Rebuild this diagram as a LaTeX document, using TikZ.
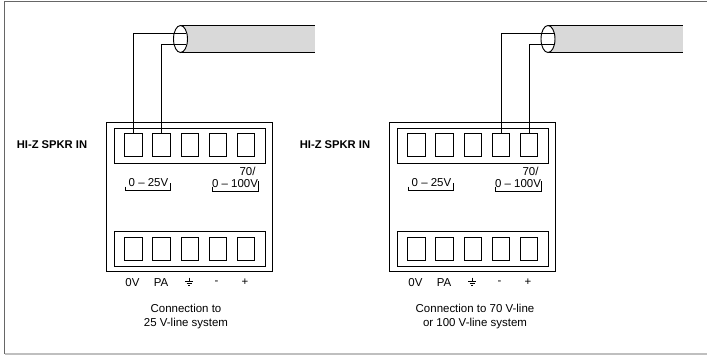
\documentclass[tikz,border=0pt]{standalone}
\usepackage{fontspec}
\setmainfont{Liberation Sans}
\begin{document}
\begin{tikzpicture}[x=0.75pt,y=-0.75pt,
    wire/.style = {line width=0.7pt},
    terminal/.style = {draw,line width=0.7pt,minimum width=13.2pt,minimum height=17.2pt,inner sep=0pt},
    label/.style = {font=\fontsize{8.6}{10.7}\selectfont,inner sep=0pt,align=center},
    title/.style = {font=\fontsize{8.4}{10}\selectfont\bfseries,inner sep=0pt}]
    \useasboundingbox (0,0) rectangle (707,355);
    \draw[gray!80!black,line width=0.9pt] (4.5,353.5) -- (4.5,1.5) -- (707,1.5);
    \draw[gray!50,line width=0.8pt] (4.5,354) -- (707,354);

    % Panel 1
    \node [title] (hizleft) at (52,145) {HI-Z SPKR IN};
    \draw[wire] (106.5,122.5) rectangle (272,271);
    \draw[wire] (114.5,128) rectangle (265,163);
    \draw[wire] (114.5,231) rectangle (265,266);
    \foreach \n/\x in {1/133.5,2/161.5,3/190,4/218,5/246}{
        \node [terminal] (ltop\n) at (\x,145) {};
        \node [terminal] (lbot\n) at (\x,248.5) {};
    }

    \node [label] (l70) at (247.5,171) {70/};
    \node [label] (l25v) at (148.5,183) {0 -- 25V};
    \node [label] (l100v) at (235,184) {0 -- 100V};
    \draw[wire] (125,186.5) -- (125,190) -- (170.5,190) -- (170.5,183);
    \draw[wire] (212,186.5) -- (212,191) -- (258,191) -- (258,181);

    \node [label] (l0v) at (132.5,282.5) {0V};
    \node [label] (lpa) at (161,282.5) {PA};
    \coordinate (lgnd) at (189,281);
    \draw[wire] (lgnd) ++(0,-3.5) -- ++(0,3.5);
    \draw[wire] (lgnd) ++(-4,0) -- ++(8,0);
    \draw[wire] (lgnd) ++(-2.5,2.5) -- ++(5,0);
    \draw[wire] (lgnd) ++(-1,4.5) -- ++(2,0);
    \node [label] (lminus) at (216.5,283) {-};
    \node [label] (lplus) at (245,282.5) {+};
    \node [label] (lnote) at (186,316.5) {Connection to\\25 V-line system};

    % Cable 1
    \fill[gray!30] (180.5,25.5) -- (315,25.5) -- (315,52.5) -- (180.5,52.5) -- cycle;
    \draw[wire] (180.5,25.5) -- (315,25.5);
    \draw[wire] (180.5,52.5) -- (315,52.5);
    \draw[wire,fill=white] (180.5,39) ellipse (7 and 13.5);
    \coordinate (lcabletop) at (186,33.5);
    \coordinate (lcablebot) at (186,44.5);
    \draw[wire] (lcabletop) -| (ltop1.north);
    \draw[wire] (lcablebot) -| (ltop2.north);

    % Panel 2
    \node [title] (hizright) at (335,145) {HI-Z SPKR IN};
    \draw[wire] (389.5,122.5) rectangle (555,271);
    \draw[wire] (397.5,128) rectangle (548,163);
    \draw[wire] (397.5,231) rectangle (548,266);
    \foreach \n/\x in {1/416.5,2/444.5,3/473,4/501,5/529}{
        \node [terminal] (rtop\n) at (\x,145) {};
        \node [terminal] (rbot\n) at (\x,248.5) {};
    }

    \node [label] (r70) at (530.5,171) {70/};
    \node [label] (r25v) at (431.5,183) {0 -- 25V};
    \node [label] (r100v) at (518,184) {0 -- 100V};
    \draw[wire] (408,186.5) -- (408,190) -- (453.5,190) -- (453.5,183);
    \draw[wire] (495,186.5) -- (495,191) -- (541,191) -- (541,181);

    \node [label] (r0v) at (415.5,282.5) {0V};
    \node [label] (rpa) at (444,282.5) {PA};
    \coordinate (rgnd) at (472,281);
    \draw[wire] (rgnd) ++(0,-3.5) -- ++(0,3.5);
    \draw[wire] (rgnd) ++(-4,0) -- ++(8,0);
    \draw[wire] (rgnd) ++(-2.5,2.5) -- ++(5,0);
    \draw[wire] (rgnd) ++(-1,4.5) -- ++(2,0);
    \node [label] (rminus) at (499.5,283) {-};
    \node [label] (rplus) at (528,282.5) {+};
    \node [label] (rnote) at (475,316.5) {Connection to 70 V-line\\or 100 V-line system};

    % Cable 2
    \fill[gray!30] (548,25.5) -- (682.5,25.5) -- (682.5,52.5) -- (548,52.5) -- cycle;
    \draw[wire] (548,25.5) -- (682.5,25.5);
    \draw[wire] (548,52.5) -- (682.5,52.5);
    \draw[wire,fill=white] (548,39) ellipse (7 and 13.5);
    \coordinate (rcabletop) at (553.5,33.5);
    \coordinate (rcablebot) at (553.5,44.5);
    \draw[wire] (rcabletop) -| (rtop4.north);
    \draw[wire] (rcablebot) -| (rtop5.north);
\end{tikzpicture}
\end{document}
